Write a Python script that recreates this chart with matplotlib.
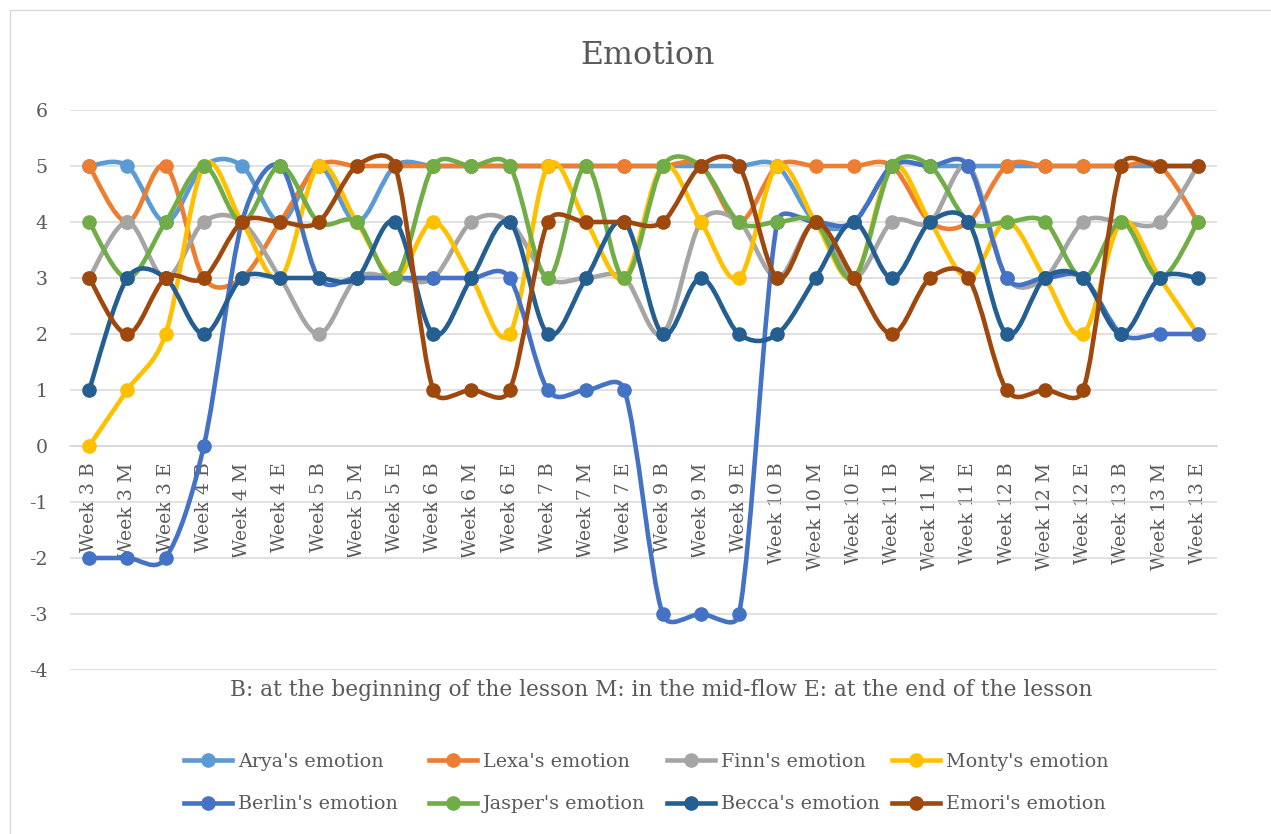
import matplotlib
matplotlib.use("Agg")
import matplotlib.pyplot as plt
from matplotlib.path import Path
from matplotlib.patches import PathPatch, Rectangle
from matplotlib.lines import Line2D
import numpy as np

categories = []
for w in ["3", "4", "5", "6", "7", "9", "10", "11", "12", "13"]:
    for p in ["B", "M", "E"]:
        categories.append(f"Week {w} {p}")

arya   = [5,5,4,5,5,4,5,4,5,5,5,5,5,5,5,5,5,5,5,4,4,5,5,5,5,5,5,5,5,5]
lexa   = [5,4,5,3,3,4,5,5,5,5,5,5,5,5,5,5,5,4,5,5,5,5,4,4,5,5,5,5,5,4]
finn   = [3,4,3,4,4,3,2,3,3,3,4,4,3,3,3,2,4,4,3,4,3,4,4,5,3,3,4,4,4,5]
monty  = [0,1,2,5,4,3,5,4,3,4,3,2,5,4,3,5,4,3,5,4,3,5,4,3,4,3,2,4,3,2]
berlin = [-2,-2,-2,0,4,5,3,3,3,3,3,3,1,1,1,-3,-3,-3,4,4,4,5,5,5,3,3,3,2,2,2]
jasper = [4,3,4,5,4,5,4,4,3,5,5,5,3,5,3,5,5,4,4,4,3,5,5,4,4,4,3,4,3,4]
becca  = [1,3,3,2,3,3,3,3,4,2,3,4,2,3,4,2,3,2,2,3,4,3,4,4,2,3,3,2,3,3]
emori  = [3,2,3,3,4,4,4,5,5,1,1,1,4,4,4,4,5,5,3,4,3,2,3,3,1,1,1,5,5,5]

series_names = ["Arya's emotion", "Lexa's emotion", "Finn's emotion", "Monty's emotion",
                "Berlin's emotion", "Jasper's emotion", "Becca's emotion", "Emori's emotion"]
series_values = [arya, lexa, finn, monty, berlin, jasper, becca, emori]
colors = ["#5B9BD5", "#ED7D31", "#A5A5A5", "#FFC000",
          "#4472C4", "#70AD47", "#255E91", "#9E480E"]

title = "Emotion"
axis_title = "B: at the beginning of the lesson M: in the mid-flow E: at the end of the lesson"

FONT = "DejaVu Serif"
plt.rcParams['font.family'] = [FONT, 'DejaVu Sans']
plt.rcParams['axes.unicode_minus'] = False
TXT = "#595959"

W, H = 1271, 834
fig = plt.figure(figsize=(W / 100, H / 100), dpi=100)
left, right, top, bottom = 70, 1217, 110, 670
ax = fig.add_axes([left / W, 1 - bottom / H, (right - left) / W, (bottom - top) / H])

# chart border
fig.patches.append(Rectangle((10 / W, -0.1), 1.2, (1 - 10 / H) + 0.1, transform=fig.transFigure,
                             fill=False, edgecolor="#D9D9D9", linewidth=1.0))

x = np.arange(len(categories))
ax.set_xlim(-0.5, len(categories) - 0.5)
ax.set_ylim(-4, 6)


def smooth_path(xs, ys):
    """Excel-style smoothed line: cubic Bezier, tension 1/6, arm capped at half segment."""
    P = ax.transData.transform(np.column_stack([xs, ys]).astype(float))
    n = len(P)
    verts = [P[0]]
    codes = [Path.MOVETO]
    for i in range(n - 1):
        p0 = P[i - 1] if i > 0 else P[i]
        p1 = P[i]
        p2 = P[i + 1]
        p3 = P[i + 2] if i + 2 < n else P[i + 1]
        d12 = np.hypot(*(p2 - p1))
        a1 = (p2 - p0) / 6.0
        a2 = (p3 - p1) / 6.0
        for a in (a1, a2):
            la = np.hypot(*a)
            if la > d12 / 2 and la > 0:
                a *= (d12 / 2) / la
        verts += [p1 + a1, p2 - a2, p2]
        codes += [Path.CURVE4] * 3
    V = ax.transData.inverted().transform(np.array(verts))
    return Path(V, codes)


lw = 3.3
ms = 9.5
for k, (vals, col) in enumerate(zip(series_values, colors)):
    patch = PathPatch(smooth_path(x, vals), fill=False, edgecolor=col, linewidth=lw,
                      capstyle="round", joinstyle="round", zorder=10 + 2 * k)
    ax.add_patch(patch)
    ax.plot(x, vals, linestyle="none", marker="o", markersize=ms, color=col,
            zorder=11 + 2 * k, clip_on=False)

ax.set_yticks(np.arange(-4, 7, 1))
ax.yaxis.grid(True, color="#D9D9D9", linewidth=1.1)
ax.set_axisbelow(True)
for s in ["top", "right", "left"]:
    ax.spines[s].set_visible(False)
ax.spines["bottom"].set_position(("data", 0))
ax.spines["bottom"].set_color("#D9D9D9")
ax.spines["bottom"].set_linewidth(1.1)
ax.set_xticks(x)
ax.set_xticklabels(categories, rotation=90, fontsize=13.6, color=TXT, va="top", ha="center")
ax.tick_params(axis="x", length=0, pad=12)
ax.tick_params(axis="y", length=0, pad=16, labelsize=13.6, labelcolor=TXT)

fig.text(647 / W, 1 - 56 / H, title, ha="center", va="center", fontsize=22.8, color=TXT)
fig.text(661 / W, 1 - 690 / H, axis_title, ha="center", va="center", fontsize=15.6, color=TXT)

# legend: four columns, two rows (row-major order as in the reference)
leg_fs = 13.8
fs_px = leg_fs * 100 / 72
hl_px = 48
col_centers = [208, 453, 691, 916]
for c in range(4):
    idx = [c, c + 4]
    handles = [Line2D([], [], color=colors[i], lw=lw, marker="o", markersize=ms) for i in idx]
    labels = [series_names[i] for i in idx]
    fig.legend(handles, labels, loc="center left",
               bbox_to_anchor=((col_centers[c] - hl_px / 2) / W, 1 - 783 / H),
               frameon=False, fontsize=leg_fs, labelcolor=TXT,
               handlelength=hl_px / fs_px, handletextpad=6 / fs_px,
               labelspacing=1.3, borderpad=0, borderaxespad=0)

fig.savefig("out.png", dpi=100)
